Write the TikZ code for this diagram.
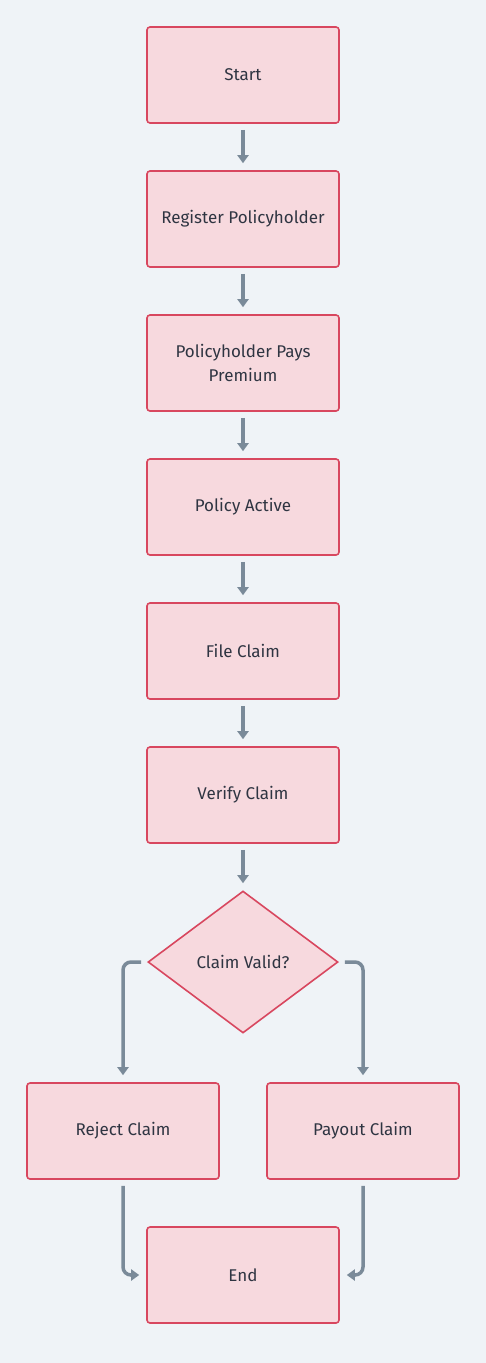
\documentclass[tikz,border=0pt]{standalone}
\usepackage{fontspec}
\setmainfont{Fira Sans}
\usetikzlibrary{shapes.geometric,arrows.meta}
\definecolor{bg}{HTML}{EFF3F7}
\definecolor{boxfill}{HTML}{F7D9DE}
\definecolor{boxline}{HTML}{D8475F}
\definecolor{arrowc}{HTML}{7A8A99}
\definecolor{txt}{HTML}{2F3542}
\tikzset{
  stepbox/.style={draw=boxline, fill=boxfill, line width=1.6pt, rounded corners=3pt,
    minimum width=192pt, minimum height=96pt, inner sep=0pt, align=center,
    text=txt, font=\fontsize{17}{24}\selectfont},
  decbox/.style={draw=boxline, fill=boxfill, line width=1.6pt, shape=diamond,
    minimum width=190pt, minimum height=142pt, aspect=1.338, inner sep=0pt,
    text=txt, font=\fontsize{17}{24}\selectfont},
  arr/.style={draw=arrowc, line width=3.5pt, -{Triangle[width=11pt,length=8pt]},
    shorten <=6pt, shorten >=7pt, rounded corners=8pt}
}
\begin{document}
\begin{tikzpicture}[x=1pt,y=-1pt]
\fill[bg] (0,0) rectangle (486,1363);
\useasboundingbox (0,0) rectangle (486,1363);
\node[stepbox] (start) at (243,75) {Start};
\node[stepbox] (reg) at (243,219) {Register Policyholder};
\node[stepbox] (pay) at (243,363) {Policyholder Pays\\Premium};
\node[stepbox] (act) at (243,507) {Policy Active};
\node[stepbox] (file) at (243,651) {File Claim};
\node[stepbox] (ver) at (243,795) {Verify Claim};
\node[decbox] (dec) at (243,962) {Claim Valid?};
\node[stepbox] (rej) at (123,1131) {Reject Claim};
\node[stepbox] (pout) at (363,1131) {Payout Claim};
\node[stepbox] (end) at (243,1275) {End};
\draw[arr] (start) -- (reg);
\draw[arr] (reg) -- (pay);
\draw[arr] (pay) -- (act);
\draw[arr] (act) -- (file);
\draw[arr] (file) -- (ver);
\draw[arr] (ver) -- (dec);
\draw[arr] (dec.west) -| (rej.north);
\draw[arr] (dec.east) -| (pout.north);
\draw[arr] (rej.south) |- (end.west);
\draw[arr] (pout.south) |- (end.east);
\end{tikzpicture}
\end{document}
